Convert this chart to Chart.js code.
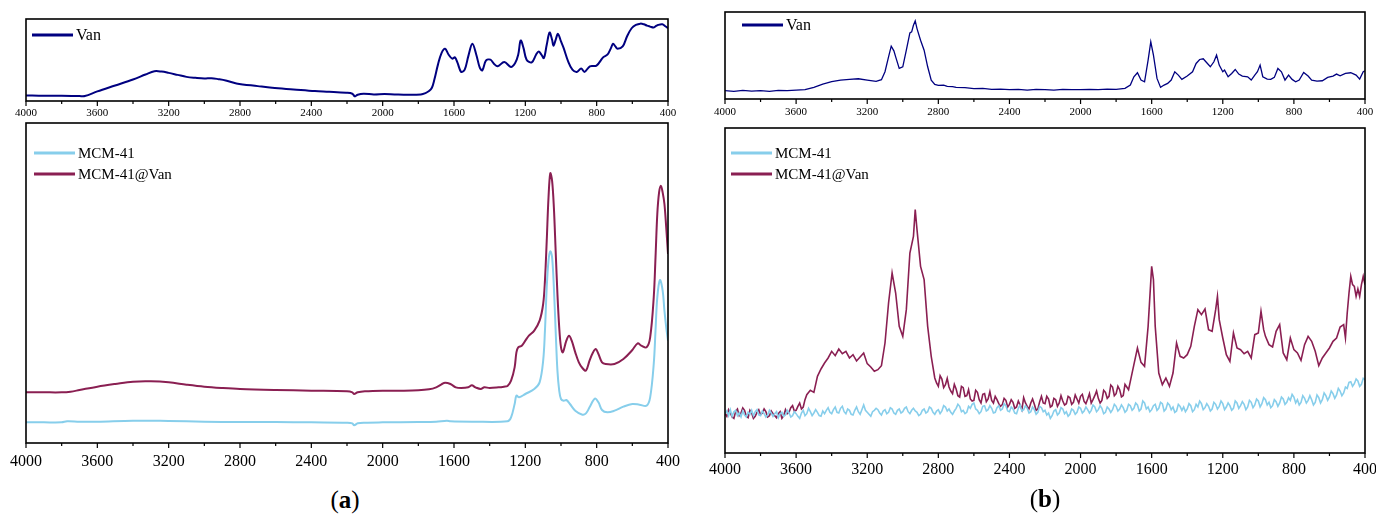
<!DOCTYPE html>
<html>
<head>
<meta charset="utf-8">
<script src="https://cdn.jsdelivr.net/npm/chart.js@4/dist/chart.umd.min.js"></script>
<style>
  body { margin: 0; background: #fff; width: 1376px; height: 514px; position: relative; overflow: hidden; font-family: "Liberation Serif", serif; }
  .panel { position: absolute; }
  .cap { position: absolute; width: 100px; text-align: center; font-size: 25px; line-height: 26px; color: #000; }
</style>
</head>
<body>
<div class="panel" id="pa1"><canvas id="ca1"></canvas></div>
<div class="panel" id="pa2"><canvas id="ca2"></canvas></div>
<div class="panel" id="pb1"><canvas id="cb1"></canvas></div>
<div class="panel" id="pb2"><canvas id="cb2"></canvas></div>
<div class="cap" style="left:295px; top:487px;">(<b>a</b>)</div>
<div class="cap" style="left:995px; top:486px;">(<b>b</b>)</div>
<script>
// wavenumber axis (cm-1)
var xTicks = [4000, 3600, 3200, 2800, 2400, 2000, 1600, 1200, 800, 400];

// (a) top - Van, [wavenumber, intensity a.u.]
var vanA = [[4000,17],[3900,16],[3800,16],[3700,15],[3670,15],[3600,29],[3500,47],[3400,65],[3330,80],[3280,90],[3240,89],[3200,85],[3150,79],[3100,73],[3050,70],[3000,68],[2960,69],[2920,66],[2880,62],[2820,53],[2700,45],[2620,40],[2500,35],[2380,30],[2300,28],[2205,25],[2170,22],[2156,14],[2140,19],[2107,22],[2050,20],[1990,21],[1934,20],[1860,19],[1786,20],[1760,24],[1740,30],[1724,40],[1710,65],[1690,110],[1670,145],[1650,158],[1630,140],[1610,128],[1595,132],[1580,115],[1560,88],[1540,95],[1520,135],[1497,173],[1475,140],[1455,100],[1441,93],[1421,122],[1396,125],[1375,112],[1355,105],[1318,118],[1281,103],[1257,115],[1240,140],[1226,183],[1210,160],[1193,125],[1164,117],[1140,140],[1125,150],[1110,140],[1096,130],[1080,170],[1064,207],[1050,185],[1042,167],[1030,185],[1017,203],[1000,180],[985,160],[960,120],[936,95],[911,88],[887,98],[868,88],[838,105],[801,107],[764,132],[740,140],[720,160],[708,173],[695,165],[683,158],[654,165],[630,195],[604,220],[580,230],[555,234],[535,232],[518,228],[500,225],[481,222],[470,226],[456,230],[432,232],[415,226],[400,220]];

// (a) bottom - MCM-41 and MCM-41@Van
var mcmA = [[4000,62],[3900,62],[3800,62],[3770,65],[3700,64],[3600,64],[3400,67],[3200,66],[3000,64],[2800,63],[2600,63],[2400,62],[2200,61],[2170,59],[2160,53],[2140,59],[2100,61],[2000,62],[1800,63],[1700,64],[1640,67],[1620,65],[1500,64],[1300,65],[1280,77],[1260,117],[1250,142],[1235,137],[1200,147],[1150,162],[1120,182],[1100,247],[1090,337],[1080,467],[1070,547],[1060,575],[1050,557],[1040,467],[1030,337],[1020,217],[1010,157],[1000,132],[985,127],[970,129],[950,117],[920,97],[880,85],[860,89],[840,107],[810,133],[790,122],[770,99],[740,92],[700,97],[650,109],[600,117],[560,115],[520,112],[500,137],[480,237],[470,337],[460,437],[445,489],[430,457],[420,397],[410,347],[400,307]];
var mcmVanA = [[4000,152],[3900,152],[3800,152],[3750,154],[3700,159],[3600,169],[3500,177],[3400,184],[3300,185],[3200,182],[3100,175],[3000,169],[2900,165],[2800,162],[2600,159],[2400,157],[2200,155],[2170,152],[2160,147],[2140,152],[2100,155],[2000,157],[1900,157],[1800,158],[1740,161],[1700,167],[1670,176],[1650,181],[1620,177],[1590,167],[1560,165],[1520,167],[1500,173],[1480,167],[1450,162],[1430,167],[1400,165],[1350,167],[1320,169],[1300,171],[1280,187],[1260,227],[1250,272],[1240,287],[1220,292],[1200,307],[1180,322],[1150,337],[1120,367],[1100,417],[1090,487],[1080,607],[1070,737],[1060,809],[1050,787],[1040,707],[1030,577],[1020,447],[1010,347],[1000,287],[990,272],[970,307],[955,322],[940,307],[920,272],[900,242],[880,225],[860,217],[840,247],[820,272],[805,282],[790,267],[770,242],[750,237],[700,237],[650,252],[600,279],[570,299],[550,292],[520,287],[500,317],[480,437],[470,557],[460,687],[450,752],[440,772],[430,752],[420,717],[410,647],[400,567]];

// (b) top - Van
var vanB = [[4000,25],[3950,23],[3900,26],[3850,24],[3800,25],[3750,23],[3700,26],[3650,25],[3600,27],[3550,28],[3500,35],[3450,45],[3400,52],[3350,57],[3300,59],[3250,61],[3200,57],[3150,53],[3120,58],[3100,82],[3080,127],[3065,159],[3050,145],[3040,127],[3020,92],[3000,97],[2980,147],[2960,199],[2950,202],[2940,222],[2930,235],[2920,212],[2900,177],[2880,147],[2860,97],[2840,57],[2820,44],[2800,41],[2770,42],[2750,38],[2720,37],[2700,35],[2650,34],[2600,31],[2550,32],[2500,29],[2450,30],[2400,28],[2350,29],[2300,27],[2250,29],[2200,28],[2150,27],[2100,29],[2050,28],[2000,28],[1950,29],[1900,28],[1850,30],[1800,29],[1750,32],[1720,42],[1700,67],[1680,79],[1660,57],[1640,52],[1620,117],[1605,172],[1590,132],[1570,62],[1550,35],[1530,42],[1510,47],[1490,57],[1470,82],[1450,72],[1430,59],[1400,69],[1370,82],[1350,107],[1330,119],[1310,121],[1290,109],[1270,97],[1250,112],[1235,132],[1220,102],[1200,82],[1190,87],[1170,67],[1150,77],[1130,89],[1110,75],[1090,69],[1060,67],[1040,57],[1020,72],[1005,82],[990,102],[975,67],[950,60],[930,59],[910,65],[890,92],[870,82],[850,57],[830,72],[810,59],[790,52],[770,57],[745,80],[720,69],[700,57],[670,54],[640,55],[610,65],[580,69],[560,75],[540,70],[510,77],[480,79],[450,72],[430,60],[410,82],[400,85]];

// (b) bottom - MCM-41 (noisy)
var mcmB = [[4000,118],[3990,126],[3980,112],[3970,130],[3960,110],[3950,124],[3940,128],[3930,112],[3920,120],[3910,108],[3900,126],[3890,114],[3880,108],[3870,122],[3860,116],[3850,128],[3840,112],[3830,124],[3820,130],[3810,114],[3800,112],[3790,126],[3780,118],[3770,108],[3760,114],[3750,128],[3740,120],[3730,110],[3720,118],[3710,124],[3700,106],[3690,118],[3680,122],[3670,110],[3660,114],[3650,128],[3640,120],[3630,108],[3620,112],[3610,124],[3600,118],[3590,110],[3580,104],[3570,120],[3560,128],[3550,112],[3540,118],[3530,134],[3520,124],[3510,112],[3500,120],[3490,130],[3480,122],[3470,112],[3460,110],[3450,126],[3440,118],[3430,128],[3420,136],[3410,122],[3400,118],[3390,130],[3380,138],[3370,122],[3360,120],[3350,134],[3340,140],[3330,124],[3320,118],[3310,132],[3300,128],[3290,116],[3280,114],[3270,128],[3260,138],[3250,124],[3240,116],[3230,130],[3220,144],[3210,128],[3200,122],[3190,116],[3180,110],[3170,124],[3160,128],[3150,134],[3140,130],[3130,120],[3120,114],[3110,126],[3100,130],[3090,118],[3080,122],[3070,136],[3060,132],[3050,120],[3040,116],[3030,128],[3020,132],[3010,120],[3000,124],[2990,134],[2980,138],[2970,124],[2960,118],[2950,128],[2940,134],[2930,126],[2920,122],[2910,112],[2900,116],[2890,128],[2880,132],[2870,120],[2860,124],[2850,138],[2840,134],[2830,122],[2820,116],[2810,126],[2800,130],[2790,118],[2780,126],[2770,142],[2760,138],[2750,126],[2740,132],[2730,122],[2720,116],[2710,126],[2700,134],[2690,146],[2680,140],[2670,124],[2660,128],[2650,118],[2640,122],[2630,140],[2620,134],[2610,146],[2600,150],[2590,132],[2580,128],[2570,118],[2560,124],[2550,140],[2540,142],[2530,126],[2520,130],[2510,142],[2500,134],[2490,120],[2480,122],[2470,136],[2460,142],[2450,128],[2440,132],[2430,148],[2420,142],[2410,126],[2400,124],[2390,138],[2380,132],[2370,120],[2360,118],[2350,134],[2340,144],[2330,126],[2320,130],[2310,142],[2300,134],[2290,120],[2280,124],[2270,138],[2260,130],[2250,116],[2240,122],[2230,140],[2220,136],[2210,124],[2200,128],[2190,114],[2180,120],[2170,104],[2160,112],[2150,126],[2140,130],[2130,114],[2120,120],[2110,136],[2100,132],[2090,118],[2080,124],[2070,110],[2060,116],[2050,132],[2040,128],[2030,116],[2020,122],[2010,138],[2000,134],[1990,120],[1980,126],[1970,138],[1960,130],[1950,120],[1940,128],[1930,144],[1920,138],[1910,124],[1900,130],[1890,142],[1880,134],[1870,118],[1860,122],[1850,138],[1840,132],[1830,122],[1820,130],[1810,146],[1800,140],[1790,126],[1780,132],[1770,144],[1760,136],[1750,122],[1740,128],[1730,146],[1720,142],[1710,128],[1700,134],[1690,150],[1680,144],[1670,126],[1660,132],[1650,156],[1640,150],[1630,132],[1620,138],[1610,124],[1600,130],[1590,142],[1580,146],[1570,128],[1560,134],[1550,152],[1540,148],[1530,126],[1520,132],[1510,150],[1500,144],[1490,130],[1480,138],[1470,122],[1460,126],[1450,146],[1440,140],[1430,128],[1420,138],[1410,124],[1400,132],[1390,148],[1380,142],[1370,124],[1360,130],[1350,146],[1340,138],[1330,156],[1320,148],[1310,130],[1300,136],[1290,148],[1280,140],[1270,126],[1260,132],[1250,152],[1240,146],[1230,132],[1220,140],[1210,156],[1200,148],[1190,130],[1180,138],[1170,150],[1160,142],[1150,128],[1140,134],[1130,156],[1120,150],[1110,134],[1100,142],[1090,154],[1080,146],[1070,130],[1060,138],[1050,158],[1040,152],[1030,136],[1020,144],[1010,162],[1000,156],[990,138],[980,148],[970,166],[960,160],[950,144],[940,152],[930,136],[920,142],[910,160],[900,154],[890,140],[880,150],[870,168],[860,162],[850,146],[840,152],[830,166],[820,158],[810,176],[800,168],[790,150],[780,160],[770,144],[760,152],[750,172],[740,164],[730,150],[720,158],[710,172],[700,160],[690,144],[680,152],[670,174],[660,166],[650,150],[640,160],[630,180],[620,172],[610,158],[600,168],[590,186],[580,178],[570,164],[560,174],[550,194],[540,186],[530,172],[520,180],[510,198],[500,194],[490,212],[480,214],[470,200],[460,208],[450,222],[440,216],[430,200],[420,206],[410,224],[400,220]];

// (b) bottom - MCM-41@Van (noisy)
var mcmVanB = [[4000,118],[3990,110],[3980,130],[3970,120],[3960,108],[3950,104],[3940,125],[3930,132],[3920,112],[3910,120],[3900,135],[3890,128],[3880,110],[3870,106],[3860,128],[3850,120],[3840,104],[3830,110],[3820,122],[3810,130],[3800,115],[3790,120],[3780,132],[3770,124],[3760,108],[3750,112],[3740,126],[3730,118],[3720,112],[3710,106],[3700,118],[3690,124],[3680,104],[3670,112],[3660,130],[3650,118],[3640,122],[3630,136],[3620,142],[3610,126],[3600,128],[3590,140],[3580,150],[3570,132],[3560,138],[3550,160],[3540,175],[3520,188],[3500,182],[3480,230],[3460,252],[3440,270],[3420,285],[3400,305],[3380,292],[3360,312],[3340,298],[3320,305],[3300,285],[3280,295],[3260,276],[3240,288],[3220,300],[3200,268],[3180,258],[3160,245],[3140,250],[3120,262],[3100,330],[3080,450],[3060,540],[3040,480],[3020,380],[3000,350],[2980,430],[2960,600],[2940,650],[2930,730],[2920,670],[2900,560],[2880,520],[2860,380],[2840,290],[2820,225],[2810,210],[2800,200],[2790,232],[2780,222],[2770,196],[2760,205],[2750,224],[2740,198],[2730,186],[2720,178],[2710,206],[2700,192],[2690,172],[2680,168],[2670,200],[2660,196],[2650,170],[2640,172],[2630,190],[2620,162],[2610,156],[2600,158],[2590,188],[2580,182],[2570,160],[2560,150],[2550,176],[2540,178],[2530,154],[2520,162],[2510,184],[2500,158],[2490,150],[2480,170],[2470,160],[2460,148],[2450,140],[2440,145],[2430,164],[2420,158],[2410,138],[2400,146],[2390,160],[2380,152],[2370,134],[2360,138],[2350,156],[2340,144],[2330,130],[2320,166],[2310,150],[2300,140],[2290,132],[2280,150],[2270,162],[2260,146],[2250,128],[2240,132],[2230,154],[2220,170],[2210,150],[2200,148],[2190,170],[2180,162],[2170,138],[2160,142],[2150,164],[2140,160],[2130,140],[2120,150],[2110,172],[2100,156],[2090,144],[2080,148],[2070,170],[2060,166],[2050,146],[2040,152],[2030,174],[2020,162],[2010,150],[2000,170],[1990,176],[1980,155],[1970,148],[1960,162],[1950,178],[1940,150],[1930,160],[1920,172],[1910,186],[1900,164],[1890,150],[1880,158],[1870,188],[1860,182],[1850,164],[1840,170],[1830,204],[1820,198],[1810,172],[1800,178],[1790,200],[1780,190],[1770,168],[1760,172],[1750,206],[1740,198],[1730,190],[1720,215],[1700,265],[1680,315],[1660,272],[1640,260],[1620,380],[1600,560],[1590,520],[1580,380],[1560,240],[1540,205],[1520,225],[1500,200],[1480,240],[1460,330],[1440,290],[1420,285],[1400,295],[1380,320],[1360,380],[1340,430],[1320,415],[1300,432],[1280,370],[1260,365],[1240,430],[1230,470],[1220,400],[1200,345],[1180,295],[1160,275],[1140,360],[1120,315],[1100,310],[1080,298],[1060,305],[1040,285],[1020,355],[1000,360],[985,425],[970,370],[960,350],[940,325],[920,318],[900,365],[880,385],[860,300],[840,280],[820,345],[800,310],[780,300],[760,278],[740,325],[720,350],[700,335],[680,305],[660,262],[640,285],[620,300],[600,315],[580,335],[560,345],[540,378],[520,385],[510,345],[500,420],[490,480],[480,530],[470,505],[460,500],[450,470],[440,492],[430,470],[420,505],[410,530],[400,505]];

var VAN_COLOR = "#000080";
var MCM_COLOR = "#87ceeb";
var MCMVAN_COLOR = "#8a1f52";

Chart.defaults.font.family = '"Liberation Serif", serif';
Chart.defaults.color = "#000";

function toPoints(arr) {
  return arr.map(function (p) { return { x: p[0], y: p[1] }; });
}

// frame, outward ticks and in-plot legend
var framePlugin = {
  id: "frame",
  afterDatasetsDraw: function (chart, args, opts) {
    var a = chart.chartArea;
    var ctx = chart.ctx;
    var xs = chart.scales.x;
    ctx.save();
    ctx.strokeStyle = "#000";
    ctx.lineWidth = 1.6;
    ctx.strokeRect(a.left, a.top, a.right - a.left, a.bottom - a.top);
    ctx.lineWidth = 1.2;
    for (var w = 400; w <= 4000; w += 200) {
      var px = xs.getPixelForValue(w);
      var len = (w % 400 === 0) ? 5 : 3;
      ctx.beginPath();
      ctx.moveTo(px, a.bottom);
      ctx.lineTo(px, a.bottom + len);
      ctx.stroke();
    }
    // legend
    ctx.font = opts.font + 'px "Liberation Serif", serif';
    ctx.textBaseline = "middle";
    ctx.textAlign = "left";
    chart.data.datasets.forEach(function (ds, i) {
      var y = a.top + opts.y0 + i * opts.dy;
      var x = a.left + opts.x0;
      ctx.strokeStyle = ds.borderColor;
      ctx.lineWidth = 2.8;
      ctx.beginPath();
      ctx.moveTo(x, y);
      ctx.lineTo(x + opts.len, y);
      ctx.stroke();
      ctx.fillStyle = "#000";
      ctx.fillText(ds.label, x + opts.len + 3, y + 1);
    });
    ctx.restore();
  }
};

function makePanel(wrapId, canvasId, box, datasets, yMax, tickFont, tickPad, axisH, legend, tension) {
  var padL = 40, padR = 40, padT = 6;
  var wrap = document.getElementById(wrapId);
  wrap.style.left = (box.left - padL) + "px";
  wrap.style.top = (box.top - padT) + "px";
  wrap.style.width = (box.right - box.left + padL + padR) + "px";
  wrap.style.height = (box.bottom - box.top + padT + axisH) + "px";

  return new Chart(document.getElementById(canvasId), {
    type: "line",
    data: { datasets: datasets },
    options: {
      responsive: true,
      maintainAspectRatio: false,
      animation: false,
      layout: { padding: { left: padL, right: padR, top: padT, bottom: 0 } },
      elements: { point: { radius: 0 }, line: { tension: tension } },
      plugins: {
        legend: { display: false },
        tooltip: { enabled: false },
        frame: legend
      },
      scales: {
        x: {
          type: "linear",
          reverse: true,
          min: 400,
          max: 4000,
          afterBuildTicks: function (scale) {
            scale.ticks = xTicks.map(function (v) { return { value: v }; });
          },
          afterFit: function (scale) { scale.height = axisH; },
          grid: { display: false, drawTicks: false },
          border: { display: false },
          ticks: {
            autoSkip: false,
            maxRotation: 0,
            padding: tickPad,
            font: { size: tickFont },
            callback: function (v) { return String(v); }
          }
        },
        y: { display: false, min: 0, max: yMax }
      }
    },
    plugins: [framePlugin]
  });
}

makePanel("pa1", "ca1", { left: 26, top: 19, right: 668, bottom: 101 },
  [{ label: "Van", data: toPoints(vanA), borderColor: VAN_COLOR, borderWidth: 2 }],
  248, 11, 6, 26, { x0: 6, y0: 16, dy: 21, len: 41, font: 16 }, 0.35);

makePanel("pa2", "ca2", { left: 26, top: 123, right: 668, bottom: 443 },
  [{ label: "MCM-41", data: toPoints(mcmA), borderColor: MCM_COLOR, borderWidth: 2 },
   { label: "MCM-41@Van", data: toPoints(mcmVanA), borderColor: MCMVAN_COLOR, borderWidth: 2 }],
  960, 16, 9, 34, { x0: 8, y0: 30, dy: 21, len: 41, font: 15 }, 0.35);

makePanel("pb1", "cb1", { left: 725, top: 12, right: 1365, bottom: 99 },
  [{ label: "Van", data: toPoints(vanB), borderColor: VAN_COLOR, borderWidth: 1.3 }],
  262, 11, 7, 26, { x0: 17, y0: 13, dy: 21, len: 41, font: 16 }, 0);

makePanel("pb2", "cb2", { left: 725, top: 128, right: 1365, bottom: 453 },
  [{ label: "MCM-41", data: toPoints(mcmB), borderColor: MCM_COLOR, borderWidth: 1.6 },
   { label: "MCM-41@Van", data: toPoints(mcmVanB), borderColor: MCMVAN_COLOR, borderWidth: 1.6 }],
  975, 16, 7, 34, { x0: 6, y0: 25, dy: 21, len: 41, font: 15 }, 0);
</script>
</body>
</html>
